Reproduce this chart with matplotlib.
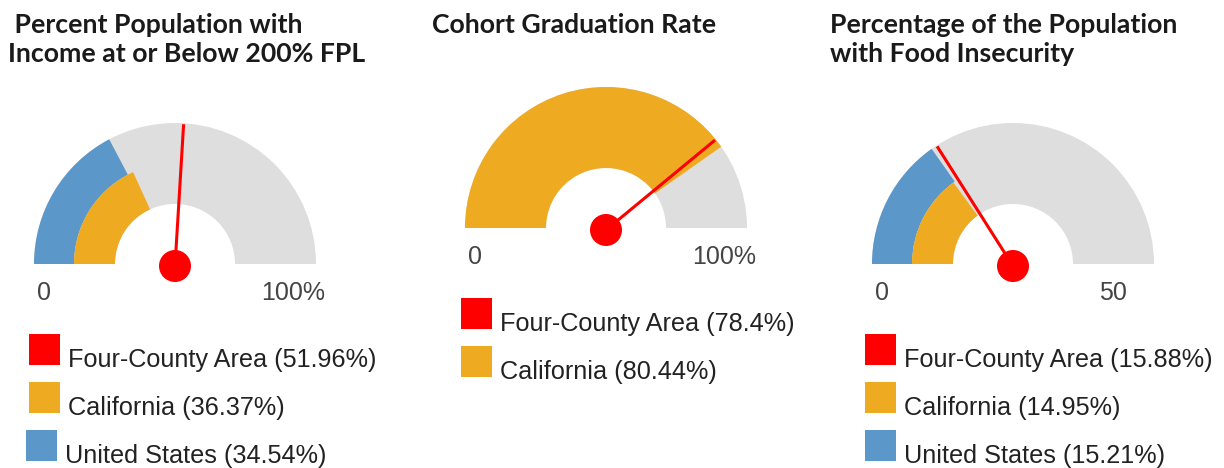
import matplotlib
matplotlib.use("Agg")
import math
import matplotlib.pyplot as plt
from matplotlib.patches import Wedge, Circle, Rectangle

titles = [
    [" Percent Population with", "Income at or Below 200% FPL"],
    ["Cohort Graduation Rate"],
    ["Percentage of the Population", "with Food Insecurity"],
]
four_county = [51.96, 78.4, 15.88]
california = [36.37, 80.44, 14.95]
united_states = [34.54, None, 15.21]
scale_max = [100, 100, 50]
max_labels = ["100%", "100%", "50"]
series_names = ["Four-County Area", "California", "United States"]

RED = "#ff0000"
ORANGE = "#eeab21"
BLUE = "#5b97c9"
GRAY = "#dedede"

W, H = 1224, 468

# layout in pixels (top-down)
centers = [(175, 264), (606, 228), (1013, 264)]
title_pos = [(8, 33), (432, 33), (830, 33)]
legend_pos = [(29, 334), (461, 298), (865, 334)]
R_OUT, R_MID, R_IN = 141, 101, 60


def ang(v, m):
    return 180 + 180 * v / m


def main():
    fig = plt.figure(figsize=(W / 100, H / 100), dpi=100)
    ax = fig.add_axes([0, 0, 1, 1])
    ax.set_xlim(0, W)
    ax.set_ylim(H, 0)
    ax.axis("off")

    for i in range(3):
        cx, cy = centers[i]
        m = scale_max[i]

        # title
        tx, ty = title_pos[i]
        for k, line in enumerate(titles[i]):
            ax.text(tx, ty + k * 29, line, fontsize=19.2, fontweight="bold",
                    family="Lato", color="#1a1a1a", va="baseline", ha="left")

        # background ring
        ax.add_patch(Wedge((cx, cy), R_OUT, 180, 360, width=R_OUT - R_IN,
                           facecolor=GRAY, edgecolor="none"))

        if united_states[i] is not None:
            ax.add_patch(Wedge((cx, cy), R_OUT, 180, ang(united_states[i], m),
                               width=R_OUT - R_MID, facecolor=BLUE, edgecolor="none"))
            ax.add_patch(Wedge((cx, cy), R_MID, 180, ang(california[i], m),
                               width=R_MID - R_IN, facecolor=ORANGE, edgecolor="none"))
        else:
            ax.add_patch(Wedge((cx, cy), R_OUT, 180, ang(california[i], m),
                               width=R_OUT - R_IN, facecolor=ORANGE, edgecolor="none"))

        # needle
        a = math.radians(ang(four_county[i], m))
        ax.plot([cx, cx + 140 * math.cos(a)], [cy + 2, cy + 140 * math.sin(a)],
                color=RED, lw=2.2, solid_capstyle="butt")
        ax.add_patch(Circle((cx, cy + 2), 16, facecolor=RED, edgecolor="none"))

        # scale labels
        ax.text(cx - 138, cy + 36, "0", fontsize=18, family="Liberation Sans",
                color="#444444", va="baseline", ha="left")
        ax.text(cx + 86, cy + 36, max_labels[i], fontsize=18, family="Liberation Sans",
                color="#444444", va="baseline", ha="left")

        # legend
        lx, ly = legend_pos[i]
        vals = [four_county[i], california[i], united_states[i]]
        cols = [RED, ORANGE, BLUE]
        row = 0
        for name, v, c in zip(series_names, vals, cols):
            if v is None:
                continue
            sx = lx - 3 if c == BLUE and i == 0 else lx
            y = ly + row * 48
            ax.add_patch(Rectangle((sx, y), 31, 31, facecolor=c, edgecolor="none"))
            ax.text(sx + 39, y + 33, "%s (%g%%)" % (name, v), fontsize=18.2,
                    family="Liberation Sans", color="#222222", va="baseline", ha="left")
            row += 1

    fig.savefig("out.png", dpi=100)


main()
